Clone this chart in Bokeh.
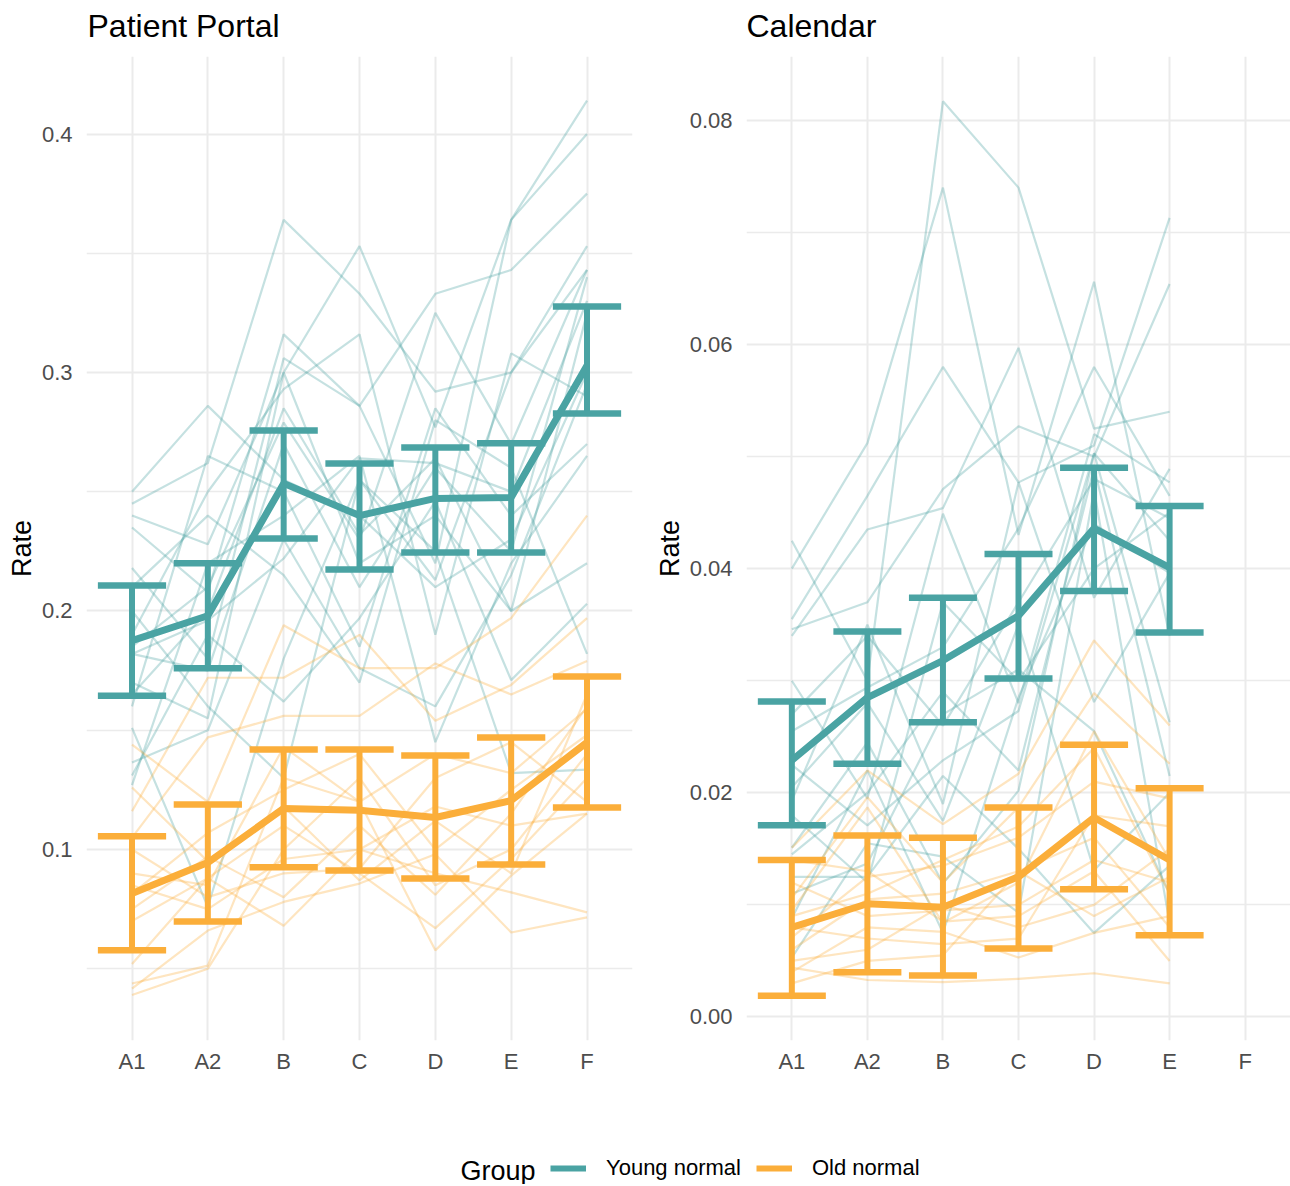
import numpy as np
from bokeh.plotting import figure
from bokeh.layouts import column, row
from bokeh.models import (Range1d, FixedTicker, Legend, LegendItem, Label,
                          NumeralTickFormatter)
from bokeh.embed import file_html
from bokeh.resources import INLINE

categories = ["A1", "A2", "B", "C", "D", "E", "F"]
group_labels = ["Young normal", "Old normal"]
panel_titles = ["Patient Portal", "Calendar"]
TEAL = "#4aa3a3"
ORANGE = "#fbae3a"
FONT = "Liberation Sans"

# ---------------- Patient Portal ----------------
portal_young_mean = [0.1876, 0.198, 0.2535, 0.240, 0.2472, 0.2476, 0.3029]
portal_young_upper = [0.2107, 0.220, 0.2757, 0.2618, 0.2686, 0.2703, 0.3277]
portal_young_lower = [0.1645, 0.176, 0.2304, 0.2174, 0.2245, 0.2245, 0.2828]
portal_old_mean = [0.0815, 0.0945, 0.1172, 0.1164, 0.1134, 0.1205, 0.1449]
portal_old_upper = [0.1055, 0.1189, 0.1419, 0.1419, 0.1394, 0.147, 0.1725]
portal_old_lower = [0.0577, 0.0698, 0.0925, 0.0912, 0.0878, 0.0937, 0.1176]

portal_young_subjects = [
    [0.250, 0.286, 0.255, 0.240, 0.210, 0.230, 0.300],
    [0.245, 0.262, 0.364, 0.333, 0.292, 0.300, 0.353],
    [0.240, 0.228, 0.300, 0.353, 0.277, 0.364, 0.414],
    [0.235, 0.208, 0.316, 0.286, 0.220, 0.364, 0.400],
    [0.218, 0.180, 0.306, 0.286, 0.333, 0.343, 0.375],
    [0.190, 0.250, 0.293, 0.316, 0.190, 0.308, 0.290],
    [0.185, 0.210, 0.279, 0.230, 0.325, 0.270, 0.343],
    [0.182, 0.175, 0.270, 0.210, 0.260, 0.225, 0.340],
    [0.182, 0.196, 0.222, 0.264, 0.262, 0.250, 0.330],
    [0.170, 0.155, 0.300, 0.220, 0.240, 0.200, 0.325],
    [0.160, 0.265, 0.250, 0.185, 0.285, 0.240, 0.270],
    [0.151, 0.076, 0.180, 0.255, 0.213, 0.300, 0.343],
    [0.1365, 0.150, 0.230, 0.176, 0.160, 0.215, 0.295],
    [0.131, 0.190, 0.162, 0.197, 0.246, 0.171, 0.203],
    [0.127, 0.220, 0.240, 0.265, 0.145, 0.220, 0.265],
    [0.200, 0.160, 0.130, 0.255, 0.225, 0.132, 0.1335],
    [0.210, 0.240, 0.215, 0.170, 0.280, 0.260, 0.182],
    [0.165, 0.200, 0.285, 0.232, 0.264, 0.200, 0.220],
]
portal_old_subjects = [
    [0.144, 0.120, 0.194, 0.176, 0.176, 0.197, 0.240],
    [0.116, 0.172, 0.172, 0.190, 0.154, 0.169, 0.197],
    [0.105, 0.147, 0.156, 0.156, 0.178, 0.165, 0.179],
    [0.090, 0.085, 0.143, 0.120, 0.140, 0.132, 0.159],
    [0.0815, 0.107, 0.125, 0.140, 0.100, 0.125, 0.148],
    [0.085, 0.075, 0.096, 0.100, 0.118, 0.110, 0.115],
    [0.075, 0.097, 0.080, 0.110, 0.081, 0.115, 0.160],
    [0.070, 0.088, 0.068, 0.100, 0.090, 0.082, 0.0736],
    [0.052, 0.088, 0.110, 0.090, 0.067, 0.096, 0.130],
    [0.0438, 0.0513, 0.130, 0.120, 0.0577, 0.089, 0.115],
    [0.0417, 0.066, 0.078, 0.0857, 0.098, 0.0652, 0.0715],
    [0.039, 0.050, 0.100, 0.130, 0.085, 0.100, 0.140],
    [0.100, 0.080, 0.090, 0.092, 0.130, 0.145, 0.120],
    [0.126, 0.095, 0.118, 0.087, 0.112, 0.090, 0.165],
]

# ---------------- Calendar (no F data) ----------------
calendar_young_mean = [0.0229, 0.0285, 0.0318, 0.0358, 0.0436, 0.0401]
calendar_young_upper = [0.02815, 0.0344, 0.0374, 0.0413, 0.0490, 0.0456]
calendar_young_lower = [0.0171, 0.0226, 0.0263, 0.0302, 0.0380, 0.0343]
calendar_old_mean = [0.0080, 0.0101, 0.0098, 0.0125, 0.0178, 0.0140]
calendar_old_upper = [0.0140, 0.0162, 0.0160, 0.0187, 0.0243, 0.0204]
calendar_old_lower = [0.0019, 0.0040, 0.0037, 0.0061, 0.0114, 0.0073]

calendar_young_subjects = [
    [0.0425, 0.030, 0.0817, 0.074, 0.0525, 0.054],
    [0.040, 0.0512, 0.074, 0.043, 0.0656, 0.034],
    [0.0355, 0.0465, 0.058, 0.0477, 0.051, 0.0713],
    [0.0346, 0.037, 0.0471, 0.0527, 0.050, 0.0654],
    [0.034, 0.0435, 0.0454, 0.0597, 0.0374, 0.0489],
    [0.030, 0.0195, 0.0449, 0.028, 0.052, 0.0477],
    [0.0255, 0.0294, 0.033, 0.0436, 0.058, 0.0465],
    [0.0225, 0.0171, 0.0229, 0.0273, 0.0503, 0.0425],
    [0.0193, 0.035, 0.019, 0.0477, 0.0281, 0.0396],
    [0.0151, 0.0245, 0.0119, 0.0202, 0.0503, 0.0263],
    [0.011, 0.0137, 0.027, 0.031, 0.0255, 0.011],
    [0.0088, 0.022, 0.0075, 0.0285, 0.044, 0.0396],
    [0.0053, 0.0155, 0.0143, 0.0093, 0.047, 0.0084],
    [0.0205, 0.028, 0.0175, 0.035, 0.0131, 0.020],
    [0.0125, 0.0125, 0.0215, 0.015, 0.0075, 0.0135],
    [0.027, 0.034, 0.026, 0.037, 0.048, 0.0445],
    [0.018, 0.012, 0.037, 0.030, 0.040, 0.045],
    [0.0145, 0.020, 0.029, 0.022, 0.049, 0.0215],
]
calendar_old_subjects = [
    [0.0151, 0.022, 0.0172, 0.0217, 0.0336, 0.026],
    [0.0106, 0.0196, 0.012, 0.0187, 0.0289, 0.0226],
    [0.0095, 0.0187, 0.0084, 0.0120, 0.0255, 0.014],
    [0.0071, 0.0125, 0.0135, 0.0160, 0.0210, 0.0195],
    [0.0044, 0.0033, 0.0031, 0.0034, 0.0039, 0.003],
    [0.004, 0.0080, 0.0076, 0.0053, 0.0075, 0.0090],
    [0.0120, 0.0090, 0.0095, 0.0100, 0.0140, 0.0120],
    [0.0080, 0.0070, 0.0065, 0.0070, 0.0180, 0.0170],
    [0.0060, 0.0105, 0.0110, 0.0130, 0.0160, 0.0080],
    [0.0140, 0.0130, 0.0085, 0.0090, 0.0130, 0.0050],
    [0.0050, 0.0060, 0.0100, 0.0080, 0.0100, 0.0150],
    [0.0090, 0.0110, 0.0140, 0.0170, 0.0240, 0.0110],
    [0.0030, 0.0050, 0.0055, 0.0130, 0.0090, 0.0125],
]

portal_yticks = [0.1, 0.2, 0.3, 0.4]
portal_yminor = [0.05, 0.15, 0.25, 0.35]
calendar_yticks = [0.0, 0.02, 0.04, 0.06, 0.08]
calendar_yminor = [0.01, 0.03, 0.05, 0.07]

CAP = 0.45


def make_panel(width, border_left, border_right, y_range, yticks, yminor, fmt, series):
    x_range = Range1d(-0.6, len(categories) - 0.4)
    p = figure(width=width, height=1046,
               x_range=x_range, y_range=y_range,
               toolbar_location=None, output_backend="svg",
               min_border_left=border_left, min_border_right=border_right,
               min_border_top=12, min_border_bottom=50)
    p.outline_line_color = None
    p.background_fill_color = "white"

    xt = FixedTicker(ticks=list(range(len(categories))))
    p.xaxis.ticker = xt
    p.xgrid.ticker = xt
    p.xaxis.major_label_overrides = {i: c for i, c in enumerate(categories)}
    yt = FixedTicker(ticks=yticks, minor_ticks=yminor)
    p.yaxis.ticker = yt
    p.ygrid.ticker = yt
    p.yaxis.formatter = NumeralTickFormatter(format=fmt)

    for ax in (p.xaxis, p.yaxis):
        ax.axis_line_color = None
        ax.major_tick_line_color = None
        ax.minor_tick_line_color = None
        ax.major_label_text_font = FONT
        ax.major_label_text_font_size = "22px"
        ax.major_label_text_color = "#4d4d4d"
    p.xaxis.major_label_standoff = 2
    p.yaxis.major_label_standoff = 8
    p.yaxis.axis_label = "Rate"
    p.yaxis.axis_label_text_font = FONT
    p.yaxis.axis_label_text_font_size = "27px"
    p.yaxis.axis_label_text_font_style = "normal"
    p.yaxis.axis_label_text_color = "black"
    p.yaxis.axis_label_standoff = 2

    for g in (p.xgrid, p.ygrid):
        g.grid_line_color = "#ebebeb"
        g.grid_line_width = 2
    p.ygrid.minor_grid_line_color = "#ebebeb"
    p.ygrid.minor_grid_line_width = 1.3

    # faint individual lines
    for subjects, color in ((series[0]["subjects"], TEAL), (series[1]["subjects"], ORANGE)):
        n = len(subjects[0])
        xs = [list(range(n)) for _ in subjects]
        p.multi_line(xs=xs, ys=subjects, line_color=color, line_alpha=0.32, line_width=2.2)

    # summary error bars and mean lines
    for s, color in ((series[0], TEAL), (series[1], ORANGE)):
        x = np.arange(len(s["mean"]))
        lo = np.array(s["lower"])
        hi = np.array(s["upper"])
        p.segment(x0=x, y0=lo, x1=x, y1=hi, line_color=color, line_width=6)
        p.segment(x0=x - CAP, y0=hi, x1=x + CAP, y1=hi, line_color=color, line_width=6.5)
        p.segment(x0=x - CAP, y0=lo, x1=x + CAP, y1=lo, line_color=color, line_width=6.5)
        p.line(x=x, y=s["mean"], line_color=color, line_width=7, line_join="round")
    return p


p1 = make_panel(646, 86, 14, Range1d(0.0199, 0.4325),
                portal_yticks, portal_yminor, "0.0",
                [dict(subjects=portal_young_subjects, mean=portal_young_mean,
                      upper=portal_young_upper, lower=portal_young_lower),
                 dict(subjects=portal_old_subjects, mean=portal_old_mean,
                      upper=portal_old_upper, lower=portal_old_lower)])
p2 = make_panel(644, 100, 0, Range1d(-0.0021, 0.0857),
                calendar_yticks, calendar_yminor, "0.00",
                [dict(subjects=calendar_young_subjects, mean=calendar_young_mean,
                      upper=calendar_young_upper, lower=calendar_young_lower),
                 dict(subjects=calendar_old_subjects, mean=calendar_old_mean,
                      upper=calendar_old_upper, lower=calendar_old_lower)])


def strip(height):
    s = figure(width=1290, height=height, x_range=Range1d(0, 1), y_range=Range1d(0, 1),
               toolbar_location=None, output_backend="svg", min_border=0,
               x_axis_location=None, y_axis_location=None)
    s.grid.visible = False
    s.outline_line_color = None
    return s


# title strip (panel titles aligned with each panel's left edge)
top = strip(44)
for txt, xpos in zip(panel_titles, (87, 746)):
    top.add_layout(Label(x=xpos, y=19, x_units="screen", y_units="screen", text=txt,
                         text_font=FONT, text_font_size="32px", text_color="black",
                         text_align="left", text_baseline="middle"))

# legend strip
leg = strip(94)
r_young = leg.line(x=[5, 6], y=[5, 5], line_color=TEAL, line_width=6)
r_old = leg.line(x=[5, 6], y=[5, 5], line_color=ORANGE, line_width=6)
legend = Legend(items=[LegendItem(label=group_labels[0], renderers=[r_young]),
                       LegendItem(label=group_labels[1], renderers=[r_old])],
                orientation="horizontal", location=(550, 3),
                label_text_font=FONT, label_text_font_size="22px",
                label_text_color="black", glyph_width=36, glyph_height=22,
                label_height=22, label_standoff=20, spacing=15, padding=0, margin=0,
                border_line_color=None, background_fill_alpha=0)
leg.add_layout(legend)
leg.add_layout(Label(x=460, y=14, x_units="screen", y_units="screen", text="Group",
                     text_font=FONT, text_font_size="27px", text_baseline="middle",
                     text_color="black"))

layout = column(top, row(p1, p2), leg)
open("out.html", "w").write(file_html(layout, INLINE))
